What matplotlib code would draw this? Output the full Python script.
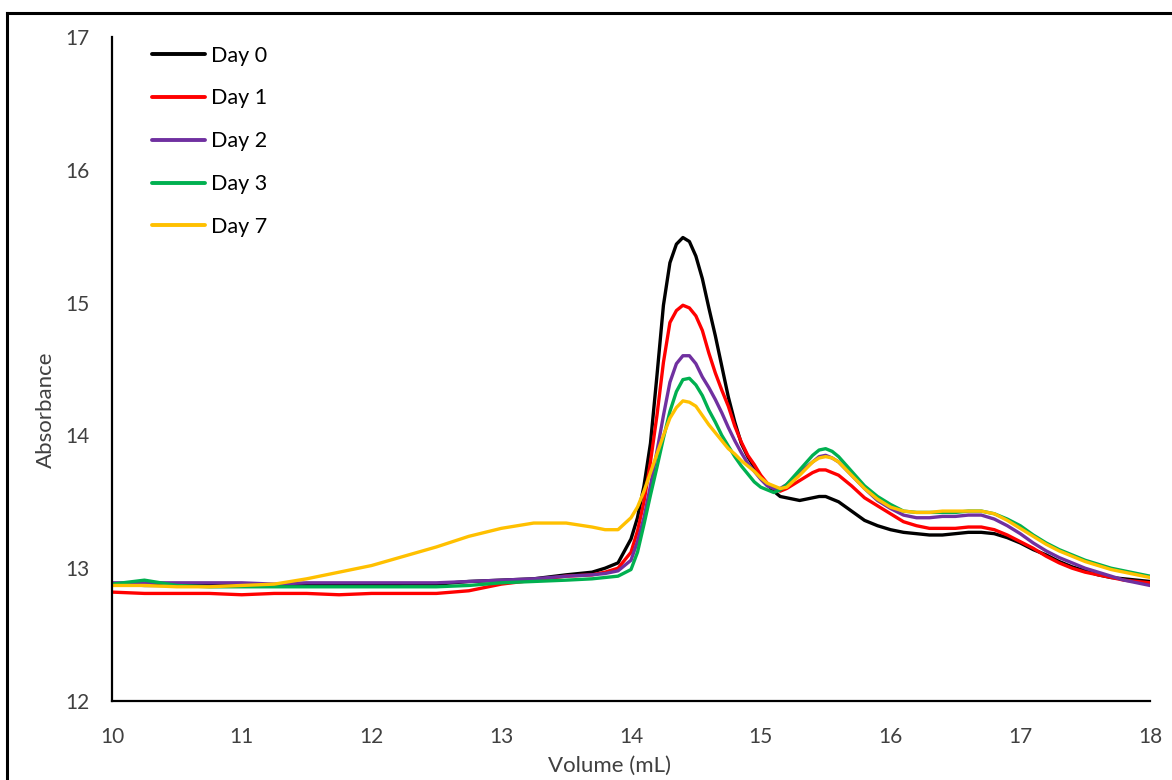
import matplotlib
matplotlib.use("Agg")
import matplotlib.pyplot as plt
from matplotlib.lines import Line2D

volume = [10.0, 10.25, 10.5, 10.75, 11.0, 11.25, 11.5, 11.75, 12.0, 12.25, 12.5, 12.75,
          13.0, 13.25, 13.5, 13.7, 13.8, 13.9, 14.0, 14.05, 14.1, 14.15, 14.2, 14.25,
          14.3, 14.35, 14.4, 14.45, 14.5, 14.55, 14.6, 14.65, 14.7, 14.75, 14.8, 14.85,
          14.9, 14.95, 15.0, 15.05, 15.1, 15.15, 15.2, 15.3, 15.4, 15.45, 15.5, 15.55,
          15.6, 15.7, 15.8, 15.9, 16.0, 16.1, 16.2, 16.3, 16.4, 16.5, 16.6, 16.7, 16.8,
          16.9, 17.0, 17.1, 17.2, 17.3, 17.4, 17.5, 17.6, 17.7, 17.8, 17.9, 18.0]

day0 = [12.88, 12.87, 12.87, 12.87, 12.87, 12.87, 12.87, 12.87, 12.87, 12.88, 12.88, 12.90,
        12.91, 12.92, 12.95, 12.97, 13.00, 13.04, 13.22, 13.38, 13.62, 13.94, 14.45, 14.98,
        15.30, 15.44, 15.49, 15.46, 15.35, 15.18, 14.96, 14.75, 14.52, 14.29, 14.10, 13.94,
        13.84, 13.76, 13.68, 13.63, 13.58, 13.54, 13.53, 13.51, 13.53, 13.54, 13.54, 13.52,
        13.50, 13.43, 13.36, 13.32, 13.29, 13.27, 13.26, 13.25, 13.25, 13.26, 13.27, 13.27, 13.26,
        13.23, 13.19, 13.14, 13.10, 13.05, 13.01, 12.98, 12.95, 12.93, 12.92, 12.91, 12.90]

day1 = [12.82, 12.81, 12.81, 12.81, 12.80, 12.81, 12.81, 12.80, 12.81, 12.81, 12.81, 12.83,
        12.88, 12.91, 12.94, 12.95, 12.97, 13.00, 13.12, 13.28, 13.50, 13.80, 14.15, 14.55,
        14.85, 14.94, 14.98, 14.96, 14.90, 14.79, 14.62, 14.47, 14.34, 14.22, 14.07, 13.95,
        13.85, 13.78, 13.70, 13.64, 13.60, 13.58, 13.60, 13.66, 13.72, 13.74, 13.74, 13.72,
        13.70, 13.62, 13.53, 13.47, 13.41, 13.35, 13.32, 13.30, 13.30, 13.30, 13.31, 13.31, 13.29,
        13.25, 13.20, 13.15, 13.09, 13.04, 13.00, 12.97, 12.95, 12.93, 12.91, 12.90, 12.89]

day2 = [12.89, 12.89, 12.89, 12.89, 12.89, 12.88, 12.89, 12.89, 12.89, 12.89, 12.89, 12.90,
        12.91, 12.92, 12.94, 12.95, 12.96, 12.98, 13.06, 13.20, 13.38, 13.62, 13.88, 14.15,
        14.40, 14.54, 14.60, 14.60, 14.54, 14.44, 14.36, 14.27, 14.17, 14.06, 13.96, 13.87,
        13.79, 13.73, 13.67, 13.62, 13.60, 13.60, 13.63, 13.72, 13.80, 13.84, 13.85, 13.83,
        13.80, 13.70, 13.60, 13.51, 13.45, 13.40, 13.38, 13.38, 13.39, 13.39, 13.40, 13.40, 13.37,
        13.32, 13.26, 13.19, 13.13, 13.08, 13.04, 13.00, 12.97, 12.94, 12.91, 12.89, 12.87]

day3 = [12.88, 12.91, 12.87, 12.86, 12.86, 12.86, 12.86, 12.86, 12.86, 12.86, 12.86, 12.87,
        12.89, 12.90, 12.91, 12.92, 12.93, 12.94, 12.99, 13.12, 13.33, 13.55, 13.76, 13.98,
        14.18, 14.33, 14.42, 14.43, 14.38, 14.30, 14.19, 14.10, 14.00, 13.92, 13.84, 13.77,
        13.71, 13.65, 13.61, 13.59, 13.57, 13.59, 13.63, 13.74, 13.85, 13.89, 13.90, 13.88,
        13.84, 13.73, 13.62, 13.54, 13.48, 13.43, 13.42, 13.42, 13.42, 13.42, 13.43, 13.43, 13.41,
        13.37, 13.32, 13.25, 13.19, 13.14, 13.10, 13.06, 13.03, 13.00, 12.98, 12.96, 12.94]

day7 = [12.87, 12.87, 12.86, 12.86, 12.87, 12.88, 12.92, 12.97, 13.02, 13.09, 13.16, 13.24,
        13.30, 13.34, 13.34, 13.31, 13.29, 13.29, 13.38, 13.46, 13.58, 13.72, 13.86, 14.00,
        14.13, 14.21, 14.26, 14.25, 14.22, 14.15, 14.08, 14.02, 13.96, 13.90, 13.86, 13.81,
        13.77, 13.73, 13.68, 13.64, 13.62, 13.60, 13.61, 13.70, 13.80, 13.83, 13.84, 13.83,
        13.80, 13.70, 13.60, 13.52, 13.46, 13.43, 13.42, 13.42, 13.43, 13.43, 13.43, 13.43, 13.41,
        13.36, 13.30, 13.24, 13.18, 13.13, 13.09, 13.05, 13.02, 12.99, 12.97, 12.95, 12.93]

series_labels = ["Day 0", "Day 1", "Day 2", "Day 3", "Day 7"]
series_colors = ["#000000", "#FF0000", "#7030A0", "#00B050", "#FFC000"]
x_ticks = [10, 11, 12, 13, 14, 15, 16, 17, 18]
y_ticks = [12, 13, 14, 15, 16, 17]

plt.rcParams['font.family'] = ['Lato', 'DejaVu Sans']

fig = plt.figure(figsize=(11.72, 7.8), dpi=100)
W, H = 1150 - 112, 701 - 37
ax = fig.add_axes([112/1172, 1 - 701/780, W/1172, H/780])

all_series = [day0, day1, day2, day3, day7]
for ys, lab, col in zip(all_series, series_labels, series_colors):
    ax.plot(volume, ys, color=col, lw=2.4, label=lab, solid_capstyle='round')

ax.set_xlim(10, 18)
ax.set_ylim(12, 17)
ax.set_xticks(x_ticks)
ax.set_yticks(y_ticks)
ax.tick_params(length=0, labelsize=15, colors='#404040')
ax.tick_params(axis='x', pad=19)
ax.tick_params(axis='y', pad=16)
for s in ['top', 'right']:
    ax.spines[s].set_visible(False)
for s in ['left', 'bottom']:
    ax.spines[s].set_linewidth(1.6)
    ax.spines[s].set_color('black')

ax.set_xlabel("Volume (mL)", fontsize=16, color='#404040')
ax.set_ylabel("Absorbance", fontsize=16, color='#404040')
ax.xaxis.set_label_coords((610 - 112) / W, -(756 - 701) / H)
ax.yaxis.set_label_coords(-(112 - 56) / W, (701 - 410) / H)

leg = ax.legend(loc='upper left', bbox_to_anchor=(31/W, 1.0), frameon=False,
                fontsize=15.5, handlelength=2.47, handletextpad=0.3, labelspacing=1.06,
                borderaxespad=0.0)
for t in leg.get_texts():
    t.set_color('#000000')
for h in leg.get_lines():
    h.set_linewidth(2.8)

# outer frame (top and left edges visible)
fig.add_artist(Line2D([7/1172, 1.0], [1 - 13/780, 1 - 13/780], transform=fig.transFigure,
                      color='black', lw=2.2))
fig.add_artist(Line2D([7/1172, 7/1172], [0.0, 1 - 13/780], transform=fig.transFigure,
                      color='black', lw=2.2))

fig.savefig("out.png", dpi=100)
